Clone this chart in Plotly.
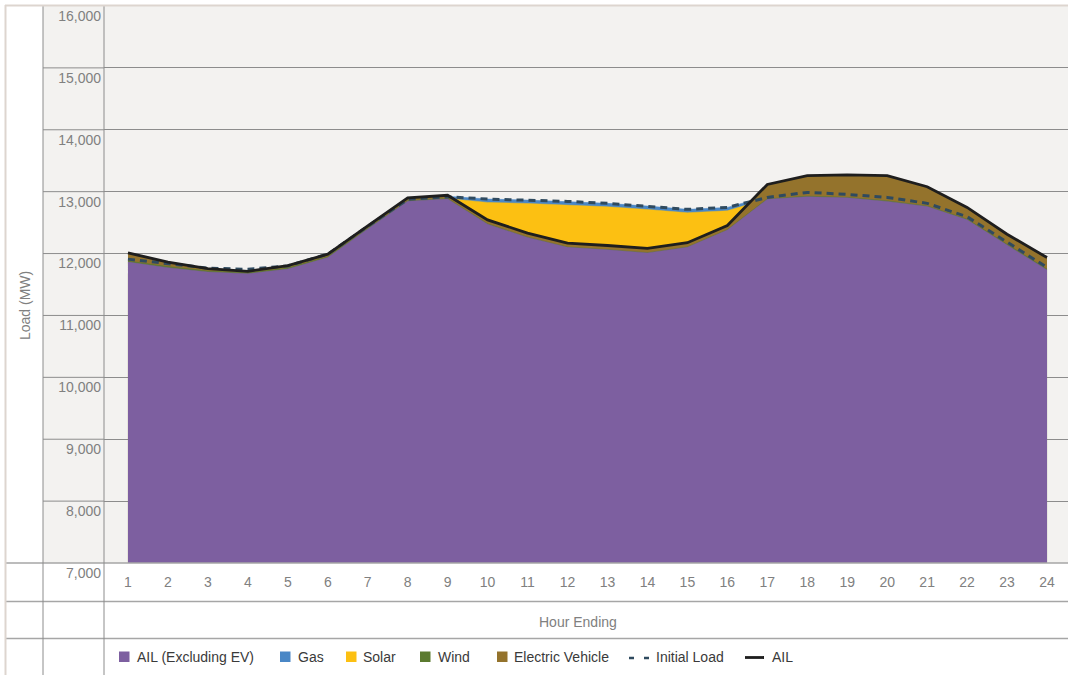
import plotly.graph_objects as go

# Hourly load components (MW)
hours = list(range(1, 25))
ail_excl_ev = [11862, 11772, 11703, 11673, 11749, 11935, 12398, 12845, 12882, 12474, 12260, 12100,
               12060, 12010, 12100, 12379, 12877, 12918, 12900, 12843, 12760, 12545, 12137, 11735]
electric_vehicle = [150, 90, 55, 40, 55, 55, 50, 55, 60, 70, 70, 70, 70, 75, 75, 75,
                    240, 340, 370, 415, 320, 200, 175, 200]
wind = [18, 18, 17, 17, 16, 15, 12, 10, 8, 6, 5, 5, 5, 5, 5, 6, 8, 10, 10, 10, 10, 12, 14, 15]
solar = [0, 0, 0, 0, 0, 0, 0, 0, 0, 346, 544, 683, 691, 697, 554, 306, 0, 0, 0, 0, 0, 0, 0, 0]
gas = [35, 35, 35, 35, 35, 35, 35, 35, 35, 55, 55, 55, 55, 55, 55, 55, 40, 40, 40, 40, 40, 40, 35, 30]
initial_load = [11910, 11840, 11765, 11745, 11800, 11990, 12440, 12875, 12918, 12881, 12864, 12843,
                12811, 12767, 12714, 12746, 12907, 12988, 12956, 12907, 12811, 12595, 12191, 11776]
y_ticks = list(range(7000, 16001, 1000))

# AIL = load excluding EV + EV charging
ail = [a + e for a, e in zip(ail_excl_ev, electric_vehicle)]
# cumulative levels for the layered areas
wind_top = [a + w for a, w in zip(ail_excl_ev, wind)]
solar_top = [t + s for t, s in zip(wind_top, solar)]
gas_top = [t + g for t, g in zip(solar_top, gas)]

C_PURPLE = "#7d5fa0"
C_GAS = "#4a87c6"
C_SOLAR = "#fcc012"
C_WIND = "#5b7a2f"
C_EV = "#94732c"
C_INIT = "#2f4a5f"
C_AIL = "#1e1e1e"
GRID = "#8c8c8c"
RULE = "#a6a6a6"
BORDER = "#ddd5cf"
TXT = "#808080"
FONT = "Liberation Sans, Arial, sans-serif"

W, H = 1068, 675
L, T, B = 104, 6, 112
PW, PH = W - L, H - T - B


def px(x):
    return (x - L) / PW


def py(y):
    return (T + PH - y) / PH


fig = go.Figure()

# areas are layered back to front
layers = [
    ("Gas", gas_top, C_GAS),
    ("Solar", solar_top, C_SOLAR),
    ("Electric Vehicle", ail, C_EV),
    ("Wind", wind_top, C_WIND),
    ("AIL (Excluding EV)", ail_excl_ev, C_PURPLE),
]
for name, vals, col in layers:
    fig.add_trace(go.Scatter(
        x=hours, y=vals, name=name, fill="tozeroy", mode="lines",
        line=dict(color=col, width=0.5), fillcolor=col, showlegend=False,
    ))

fig.add_trace(go.Scatter(
    x=hours, y=initial_load, name="Initial Load", mode="lines",
    line=dict(color=C_INIT, width=3, dash="7px,5px"), showlegend=False,
))
fig.add_trace(go.Scatter(
    x=hours, y=ail, name="AIL", mode="lines",
    line=dict(color=C_AIL, width=2.8), showlegend=False,
))

shapes = []
# tick-label column background
shapes.append(dict(type="rect", xref="paper", yref="paper", x0=px(43), x1=0, y0=0, y1=1,
                   fillcolor="#f3f2f0", line=dict(width=0), layer="below"))
# gridlines carried across the tick-label column
for v in y_ticks[1:-1]:
    shapes.append(dict(type="line", xref="paper", yref="y", x0=px(43), x1=0, y0=v, y1=v,
                       line=dict(color=GRID, width=1)))
# table rules
for yy in (563, 601.5, 638.5):
    shapes.append(dict(type="line", xref="paper", yref="paper", x0=px(6), x1=1,
                       y0=py(yy), y1=py(yy), line=dict(color=RULE, width=1.5)))
for xx in (43, 104):
    shapes.append(dict(type="line", xref="paper", yref="paper", x0=px(xx), x1=px(xx),
                       y0=py(6), y1=py(H), line=dict(color=GRID, width=1)))
# outer border
shapes.append(dict(type="line", xref="paper", yref="paper", x0=px(5), x1=1.01,
                   y0=py(5.5), y1=py(5.5), line=dict(color=BORDER, width=2)))
shapes.append(dict(type="line", xref="paper", yref="paper", x0=px(5.5), x1=px(5.5),
                   y0=py(5), y1=py(H + 2), line=dict(color=BORDER, width=2)))

annotations = [
    dict(text="Hour Ending", x=px(578), y=py(622), xref="paper", yref="paper",
         xanchor="center", yanchor="middle",
         showarrow=False, font=dict(family=FONT, size=14, color=TXT)),
    dict(text="Load (MW)", x=px(25), y=py(306), xref="paper", yref="paper", textangle=-90,
         xanchor="center", yanchor="middle",
         showarrow=False, font=dict(family=FONT, size=14, color=TXT)),
]

# legend row
LEG_Y = 657
legend_items = [
    ("AIL (Excluding EV)", C_PURPLE, "box", 119, 135),
    ("Gas", C_GAS, "box", 280, 296),
    ("Solar", C_SOLAR, "box", 346, 361),
    ("Wind", C_WIND, "box", 420, 436),
    ("Electric Vehicle", C_EV, "box", 497, 512),
    ("Initial Load", C_INIT, "dash", 629, 654),
    ("AIL", C_AIL, "line", 745, 770),
]
for label, col, kind, sx, tx in legend_items:
    if kind == "box":
        shapes.append(dict(type="rect", xref="paper", yref="paper",
                           x0=px(sx), x1=px(sx + 10.5), y0=py(LEG_Y - 5.5), y1=py(LEG_Y + 5),
                           fillcolor=col, line=dict(width=0)))
    elif kind == "dash":
        for dx in (0, 15):
            shapes.append(dict(type="line", xref="paper", yref="paper",
                               x0=px(sx + dx), x1=px(sx + dx + 5), y0=py(LEG_Y + 1), y1=py(LEG_Y + 1),
                               line=dict(color=col, width=2.5)))
    else:
        shapes.append(dict(type="line", xref="paper", yref="paper",
                           x0=px(sx), x1=px(sx + 19), y0=py(LEG_Y + 0.5), y1=py(LEG_Y + 0.5),
                           line=dict(color=col, width=2.8)))
    annotations.append(dict(text=label, x=px(tx), y=py(LEG_Y), xref="paper", yref="paper",
                            xanchor="left", yanchor="middle", showarrow=False,
                            font=dict(family=FONT, size=14, color="#3a3a3a")))

fig.update_layout(
    width=W, height=H, autosize=False,
    margin=dict(l=L, r=0, t=T, b=B, pad=0),
    paper_bgcolor="white", plot_bgcolor="#f3f2f0",
    font=dict(family=FONT, size=14, color=TXT),
    showlegend=False,
    shapes=shapes, annotations=annotations,
    xaxis=dict(range=[0.4, 24.525], tickmode="array", tickvals=hours,
               ticktext=[str(h) for h in hours], showgrid=False, zeroline=False,
               showline=False, ticks="", ticklabelstandoff=9,
               tickfont=dict(family=FONT, size=14, color=TXT)),
    yaxis=dict(range=[7000, 16000], tickmode="array", tickvals=y_ticks,
               tickformat=",d", showgrid=True, gridcolor=GRID, gridwidth=1,
               zeroline=False, showline=False, ticks="", ticklabelshift=10,
               ticklabelstandoff=2, tickfont=dict(family=FONT, size=14, color=TXT)),
)

fig.write_html("out.html")
